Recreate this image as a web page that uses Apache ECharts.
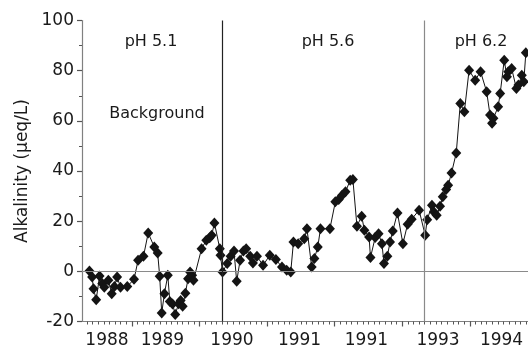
<!DOCTYPE html>
<html><head><meta charset="utf-8">
<script src="https://cdn.jsdelivr.net/npm/echarts@6/dist/echarts.min.js"></script>
<style>html,body{margin:0;padding:0;background:#fff}#c{width:528px;height:354px}</style>
</head><body><div id="c"></div>
<script>
// Sampling dates (decimal years)
const years = [
 1988.37,1988.41,1988.43,1988.47,1988.52,1988.56,1988.59,1988.65,1988.70,1988.74,
 1988.78,1988.83,1988.93,1989.03,1989.09,1989.17,1989.24,1989.33,1989.38,1989.41,
 1989.44,1989.48,1989.53,1989.56,1989.60,1989.64,1989.69,1989.72,1989.75,1989.79,
 1989.83,1989.86,1989.89,1989.91,1990.03,1990.10,1990.15,1990.18,1990.22,1990.30,
 1990.31,1990.34,1990.41,1990.46,1990.51,1990.55,1990.60,1990.65,1990.69,1990.75,
 1990.79,1990.85,1990.94,1991.04,1991.13,1991.22,1991.29,1991.35,1991.39,1991.46,
 1991.55,1991.59,1991.66,1991.70,1991.75,1991.79,1991.93,1992.01,1992.06,1992.11,
 1992.16,1992.23,1992.27,1992.33,1992.40,1992.44,1992.51,1992.53,1992.60,1992.65,
 1992.70,1992.73,1992.78,1992.82,1992.86,1992.93,1993.01,1993.08,1993.14,1993.25,
 1993.34,1993.37,1993.44,1993.47,1993.51,1993.56,1993.60,1993.65,1993.68,1993.73,
 1993.80,1993.86,1993.92,1993.99,1994.08,1994.16,1994.25,1994.30,1994.33,1994.35,
 1994.42,1994.45,1994.51,1994.55,1994.57,1994.62,1994.69,1994.72,1994.77,1994.80,
 1994.83
];
// Alkalinity (ueq/L)
const alkalinity = [
 0.1,-2.3,-6.9,-11.3,-1.9,-4.9,-6.3,-3.6,-8.9,-6.0,
 -2.3,-6.3,-6.0,-3.2,4.4,6.0,15.3,9.7,7.3,-2.0,
 -16.6,-8.9,-1.6,-12.0,-13.0,-17.2,-12.9,-11.6,-13.9,-8.7,
 -3.0,-0.3,-1.6,-3.6,9.0,12.4,13.4,14.4,19.3,9.0,
 6.4,-0.3,3.1,6.0,8.1,-4.0,4.4,8.1,9.0,6.0,
 3.3,6.0,2.4,6.4,4.7,1.7,0.4,-0.3,11.7,11.0,
 13.0,17.0,1.7,5.1,9.7,17.0,17.0,27.7,28.6,30.3,
 31.7,36.3,36.6,18.0,22.0,16.4,13.7,5.5,13.5,15.0,
 11.0,3.1,6.0,11.7,16.1,23.3,11.0,18.8,20.8,24.4,
 14.4,20.6,26.3,23.7,22.4,25.9,29.7,32.6,34.3,39.2,
 47.2,66.9,63.6,80.2,76.2,79.6,71.6,62.3,59.0,61.0,
 65.6,70.9,84.2,77.6,79.6,80.9,72.9,74.3,78.2,75.6,
 87.1
];
const yMin = -20, yMax = 100, yStep = 20;
const xMin = 1988.26, xMax = 1994.862;
const majorYearTicks = [1989,1990,1991,1992,1993,1994];
const xTickLabels = ['1988','1989','1990','1991','1991','1993','1994'];
const xLabelPos = [1988.63,1989.45,1990.48,1991.48,1992.47,1993.53,1994.47];
const phBoundaries = [1990.33, 1993.32];
const phLabels = ['pH 5.1','pH 5.6','pH 6.2'];
const periodLabel = 'Background';

const monthTicks = [];
for (let m = Math.ceil(xMin*12); m/12 <= xMax; m++) monthTicks.push(m/12);

const FONT = 'DejaVu Sans';
const TXT = '#1a1a1a';
const AX = '#808080';

const chart = echarts.init(document.getElementById('c'), null, {renderer:'canvas'});
const data = years.map((y,i)=>[y, alkalinity[i]]);

chart.setOption({
  animation:false,
  backgroundColor:'#fff',
  grid:{left:82, top:20.5, right:0, bottom:32.5, containLabel:false},
  xAxis:[{
    type:'value', min:xMin, max:xMax, position:'bottom',
    axisLine:{show:true, onZero:false, lineStyle:{color:AX, width:1.2}},
    axisTick:{show:true, customValues:majorYearTicks, length:5, lineStyle:{color:'#555', width:1.2}},
    axisLabel:{show:true, customValues:xLabelPos, margin:11, fontFamily:FONT, fontSize:17, color:TXT,
      formatter:(v)=>{ const i = xLabelPos.findIndex(p=>Math.abs(p-v)<1e-6); return i>=0?xTickLabels[i]:''; }},
    splitLine:{show:false}
  },{
    type:'value', min:xMin, max:xMax, position:'bottom',
    axisLine:{show:false, onZero:false},
    axisTick:{show:true, customValues:monthTicks, length:3, lineStyle:{color:'#555', width:1}},
    axisLabel:{show:false},
    splitLine:{show:false}
  }],
  yAxis:{
    type:'value', min:yMin, max:yMax, interval:yStep,
    name:'Alkalinity (μeq/L)', nameLocation:'middle', nameGap:45, nameRotate:90,
    nameTextStyle:{fontFamily:FONT, fontSize:17, color:TXT},
    axisLine:{show:true, onZero:false, lineStyle:{color:AX, width:1.2}},
    axisTick:{show:true, length:5, lineStyle:{color:'#555', width:1.2}},
    minorTick:{show:true, splitNumber:2, length:3, lineStyle:{color:'#555', width:1}},
    axisLabel:{margin:8, fontFamily:FONT, fontSize:17, color:TXT},
    splitLine:{show:false}
  },
  series:[{
    type:'line', data:data, xAxisIndex:0,
    symbol:'diamond', symbolSize:[10,11],
    itemStyle:{color:'#141414'},
    lineStyle:{color:'#141414', width:1},
    markLine:{
      silent:true, symbol:'none', label:{show:false},
      data:[
        {yAxis:0, lineStyle:{color:'#8a8a8a', width:1.2, type:'solid'}},
        {xAxis:phBoundaries[0], lineStyle:{color:'#222', width:1.2, type:'solid'}},
        {xAxis:phBoundaries[1], lineStyle:{color:'#8a8a8a', width:1.2, type:'solid'}}
      ]
    },
    z:3
  }],
  graphic:[
    {type:'text', x:151, y:42, style:{text:phLabels[0], font:'16px "DejaVu Sans"', fill:TXT, textAlign:'center', textVerticalAlign:'middle'}},
    {type:'text', x:328, y:42, style:{text:phLabels[1], font:'16px "DejaVu Sans"', fill:TXT, textAlign:'center', textVerticalAlign:'middle'}},
    {type:'text', x:481, y:42, style:{text:phLabels[2], font:'16px "DejaVu Sans"', fill:TXT, textAlign:'center', textVerticalAlign:'middle'}},
    {type:'text', x:157, y:114, style:{text:periodLabel, font:'16px "DejaVu Sans"', fill:TXT, textAlign:'center', textVerticalAlign:'middle'}}
  ]
});
</script></body></html>
